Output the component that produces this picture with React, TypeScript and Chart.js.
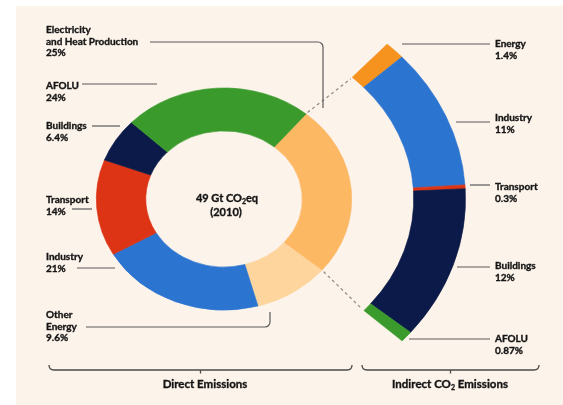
import React, { useEffect, useRef } from "react";
import { Chart, registerables } from "chart.js";

Chart.register(...registerables);

// ---- data ----
const directCategories = ["Electricity\nand Heat Production", "Other\nEnergy", "Industry", "Transport", "Buildings", "AFOLU"];
const directValues = [25, 9.6, 21, 14, 6.4, 24];
const directColors = ["#fdb863", "#fdd59d", "#2b74d0", "#dc3414", "#0b1a48", "#3a9a2c"];

const indirectCategories = ["Energy", "Industry", "Transport", "Buildings", "AFOLU"];
const indirectValues = [1.4, 11, 0.3, 12, 0.87];
const indirectColors = ["#f6921e", "#2b74d0", "#dc3414", "#0b1a48", "#3a9a2c"];

const totalValue = 49;
const totalYear = 2010;
const groupTitles = ["Direct Emissions", "Indirect CO₂ Emissions"];

// ---- layout (positions only) ----
const SX = 1.15; // horizontal stretch of the rings
type LabelLayout = { x: number; y: number; line: number[][]; corner?: boolean };
const directLayout: LabelLayout[] = [
  { x: 46, y: 30, line: [[150, 42], [323, 42], [323, 108]], corner: true },
  { x: 46, y: 315, line: [[86, 327], [270, 327], [270, 312]], corner: true },
  { x: 46, y: 257, line: [[77, 268], [115, 268]] },
  { x: 46, y: 200, line: [[72, 209], [92, 209]] },
  { x: 46, y: 126, line: [[92, 126], [120, 126]] },
  { x: 46, y: 86, line: [[82, 84], [157, 84]] },
];
const indirectLayout: LabelLayout[] = [
  { x: 495, y: 44, line: [[402, 44], [490, 44]] },
  { x: 495, y: 118, line: [[456, 122], [490, 122]] },
  { x: 495, y: 187, line: [[470, 185], [490, 185]] },
  { x: 495, y: 266, line: [[457, 267], [490, 267]] },
  { x: 495, y: 339, line: [[409, 339], [490, 339]] },
];

const FONT = "Lato, 'Open Sans', 'DejaVu Sans', sans-serif";
const TEXT = "#151515";
const LINE = "#5a5a5a";

function boldText(ctx: CanvasRenderingContext2D, t: string, x: number, y: number) {
  ctx.fillText(t, x, y);
  ctx.lineWidth = 0.35;
  ctx.strokeStyle = TEXT;
  ctx.strokeText(t, x, y);
}

function drawPolyline(ctx: CanvasRenderingContext2D, pts: number[][], corner?: boolean) {
  ctx.beginPath();
  ctx.moveTo(pts[0][0], pts[0][1]);
  if (corner && pts.length === 3) {
    ctx.arcTo(pts[1][0], pts[1][1], pts[2][0], pts[2][1], 5);
    ctx.lineTo(pts[2][0], pts[2][1]);
  } else {
    for (let i = 1; i < pts.length; i++) ctx.lineTo(pts[i][0], pts[i][1]);
  }
  ctx.stroke();
}

function drawLabel(ctx: CanvasRenderingContext2D, name: string, value: number, lay: LabelLayout) {
  ctx.font = `bold 10px ${FONT}`;
  ctx.fillStyle = TEXT;
  ctx.textAlign = "left";
  ctx.textBaseline = "middle";
  const lines = name.split("\n").concat([`${value}%`]);
  lines.forEach((t, i) => boldText(ctx, t, lay.x, lay.y + i * 11.5));
  ctx.strokeStyle = LINE;
  ctx.lineWidth = 1.2;
  drawPolyline(ctx, lay.line, lay.corner);
}

// draw text with "₂" rendered as a subscript, centred at x
function drawRich(ctx: CanvasRenderingContext2D, text: string, cx: number, y: number, size: number) {
  const parts = text.split("₂");
  const main = `bold ${size}px ${FONT}`;
  const sub = `bold ${Math.round(size * 0.65)}px ${FONT}`;
  let w = 0;
  parts.forEach((p, i) => {
    ctx.font = main;
    w += ctx.measureText(p).width;
    if (i < parts.length - 1) {
      ctx.font = sub;
      w += ctx.measureText("2").width;
    }
  });
  let x = cx - w / 2;
  ctx.textAlign = "left";
  ctx.textBaseline = "middle";
  parts.forEach((p, i) => {
    ctx.font = main;
    boldText(ctx, p, x, y);
    x += ctx.measureText(p).width;
    if (i < parts.length - 1) {
      ctx.font = sub;
      boldText(ctx, "2", x, y + size * 0.3);
      x += ctx.measureText("2").width;
    }
  });
}

function drawBracket(ctx: CanvasRenderingContext2D, x0: number, x1: number, y: number) {
  const mid = (x0 + x1) / 2;
  ctx.beginPath();
  ctx.moveTo(x0, y - 5);
  ctx.quadraticCurveTo(x0, y, x0 + 5, y);
  ctx.lineTo(x1 - 5, y);
  ctx.quadraticCurveTo(x1, y, x1, y - 5);
  ctx.moveTo(mid, y);
  ctx.lineTo(mid, y + 3.5);
  ctx.stroke();
}

const decorPlugin = {
  id: "decor",
  beforeDraw(chart: any) {
    const ctx = chart.ctx as CanvasRenderingContext2D;
    ctx.save();
    ctx.fillStyle = "#ffffff";
    ctx.fillRect(0, 0, chart.width, chart.height);
    ctx.fillStyle = "#fcf3ea";
    ctx.fillRect(16, 6, chart.width - 16, chart.height - 6);
    ctx.restore();
  },
  beforeDatasetsDraw(chart: any) {
    const ctx = chart.ctx as CanvasRenderingContext2D;
    const el = chart.getDatasetMeta(2).data[0];
    ctx.save();
    ctx.translate(el.x, 0);
    ctx.scale(SX, 1);
    ctx.translate(-el.x, 0);
  },
  afterDatasetsDraw(chart: any) {
    chart.ctx.restore();
  },
  afterDraw(chart: any) {
    const ctx = chart.ctx as CanvasRenderingContext2D;
    const dMeta = chart.getDatasetMeta(2);
    const iMeta = chart.getDatasetMeta(0);
    const pt = (el: any, ang: number, r: number) => [el.x + r * Math.cos(ang) * SX, el.y + r * Math.sin(ang)];
    ctx.save();

    // dashed connectors between the electricity slice and the indirect arc
    const dEl = dMeta.data[0];
    const iFirst = iMeta.data[0];
    const iLast = iMeta.data[iMeta.data.length - 1];
    ctx.strokeStyle = "#8a8a8a";
    ctx.lineWidth = 1.2;
    ctx.setLineDash([3, 3]);
    const a = pt(dEl, dEl.startAngle, dEl.outerRadius + 2);
    const b = pt(iFirst, iFirst.startAngle, iFirst.innerRadius - 2);
    const c = pt(dEl, dEl.endAngle, dEl.outerRadius + 2);
    const d = pt(iLast, iLast.endAngle, iLast.innerRadius - 2);
    ctx.beginPath();
    ctx.moveTo(a[0], a[1]);
    ctx.lineTo(b[0], b[1]);
    ctx.moveTo(c[0], c[1]);
    ctx.lineTo(d[0], d[1]);
    ctx.stroke();
    ctx.setLineDash([]);

    directCategories.forEach((n, i) => drawLabel(ctx, n, directValues[i], directLayout[i]));
    indirectCategories.forEach((n, i) => drawLabel(ctx, n, indirectValues[i], indirectLayout[i]));

    // centre text
    ctx.fillStyle = TEXT;
    drawRich(ctx, `${totalValue} Gt CO₂eq`, dEl.x + 3, dEl.y - 1, 11);
    drawRich(ctx, `(${totalYear})`, dEl.x + 2, dEl.y + 13, 11);

    // brackets and group titles
    ctx.strokeStyle = "#4a4a4a";
    ctx.lineWidth = 1.3;
    drawBracket(ctx, 49, 352, 370);
    drawBracket(ctx, 362, 539, 370);
    ctx.fillStyle = TEXT;
    drawRich(ctx, groupTitles[0], 205, 384, 11.5);
    drawRich(ctx, groupTitles[1], 450, 384, 11.5);
    ctx.restore();
  },
};

export default function App() {
  const ref = useRef<HTMLCanvasElement | null>(null);
  useEffect(() => {
    if (!ref.current) return;
    const chart = new Chart(ref.current, {
      type: "doughnut",
      data: {
        labels: directCategories,
        datasets: [
          {
            label: "Indirect",
            data: indirectValues,
            backgroundColor: indirectColors,
            borderColor: indirectColors,
            borderWidth: 0.6,
            rotation: 42.5,
            circumference: 90,
            weight: 45,
          } as any,
          {
            label: "gap",
            data: [1],
            backgroundColor: ["rgba(0,0,0,0)"],
            borderWidth: 0,
            rotation: 40,
            weight: 54,
          } as any,
          {
            label: "Direct",
            data: directValues,
            backgroundColor: directColors,
            borderColor: directColors,
            borderWidth: 0.6,
            rotation: 40,
            weight: 43,
          } as any,
        ],
      },
      options: {
        responsive: false,
        maintainAspectRatio: false,
        animation: false,
        radius: 210,
        cutout: "32.4%",
        rotation: 40,
        layout: { padding: { left: 0, right: 115, top: 0, bottom: 7 } },
        plugins: { legend: { display: false }, tooltip: { enabled: false } },
        events: [],
      } as any,
      plugins: [decorPlugin],
    });
    return () => chart.destroy();
  }, []);
  return (
    <div style={{ position: "fixed", left: 0, top: 0, width: 563, height: 405, background: "#fff" }}>
      <canvas ref={ref} width={563} height={405} style={{ width: 563, height: 405, display: "block" }} />
    </div>
  );
}
